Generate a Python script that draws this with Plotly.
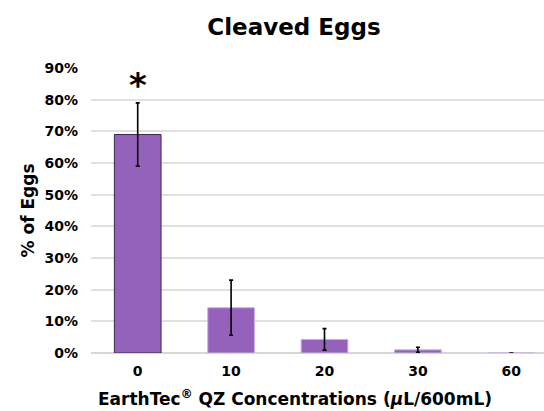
import plotly.graph_objects as go

categories = ["0", "10", "20", "30", "60"]
values = [0.69, 0.143, 0.043, 0.010, 0.0]
errors = [0.10, 0.087, 0.034, 0.008, 0.0]
outline_colors = ["#3d2a4f", "#c9b3dd", "#c9b3dd", "#c9b3dd", "#c9b3dd"]
y_ticks = [0, 0.1, 0.2, 0.3, 0.4, 0.5, 0.6, 0.7, 0.8, 0.9]
y_tick_labels = ["0%", "10%", "20%", "30%", "40%", "50%", "60%", "70%", "80%", "90%"]
x_title = "EarthTec<sup>®</sup> QZ Concentrations (<i>μ</i>L/600mL)"

FONT = "DejaVu Sans"
W, H = 544, 411
ML, MR, MT, MB = 91, 0, 68, 58
PW, PH = W - ML - MR, H - MT - MB

fig = go.Figure()
fig.add_trace(go.Bar(
    x=list(range(len(categories))),
    y=values,
    width=0.5,
    marker=dict(color="#9461bb", line=dict(color=outline_colors, width=1)),
    error_y=dict(type="data", array=errors, visible=True, color="black", thickness=1.6, width=2),
    hoverinfo="skip",
))

fig.add_annotation(x=0, y=0.845, xref="x", yref="y", text="<b>*</b>", showarrow=False,
                   font=dict(family=FONT, size=34, color="black"), yanchor="middle")

fig.add_annotation(x=(295 - ML) / PW, y=-(398 - (H - MB)) / PH, xref="paper", yref="paper",
                   text=f"<b>{x_title}</b>", showarrow=False, xanchor="center", yanchor="middle",
                   font=dict(family=FONT, size=17, color="black"))

fig.update_layout(
    width=W, height=H,
    margin=dict(l=ML, r=MR, t=MT, b=MB),
    paper_bgcolor="white", plot_bgcolor="white",
    showlegend=False,
    title=dict(text="<b>Cleaved Eggs</b>", x=294/W, xref="container", xanchor="center",
               y=1 - 27/H, yref="container", yanchor="middle",
               font=dict(family=FONT, size=23, color="black")),
    font=dict(family=FONT, color="black"),
    bargap=0.5,
)
fig.update_xaxes(
    tickmode="array", tickvals=list(range(len(categories))), ticktext=[f"<b>{c}</b>" for c in categories],
    range=[-0.5, 4.35], showgrid=False, zeroline=False, showline=False, ticks="",
    tickfont=dict(family=FONT, size=14, color="black"), ticklabelstandoff=8,
)
fig.update_yaxes(
    range=[0, 0.9], tickmode="array", tickvals=y_ticks, ticktext=[f"<b>{t}</b>" for t in y_tick_labels],
    showgrid=True, gridcolor="#e0e0e0", gridwidth=1.5, zeroline=True, zerolinecolor="#d6d6d6", zerolinewidth=2,
    showline=False, ticks="", ticklabelstandoff=12,
    tickfont=dict(family=FONT, size=14, color="black"),
    title=dict(text="<b>% of Eggs</b>", font=dict(family=FONT, size=17, color="black"), standoff=5),
)

fig.write_html("out.html")
